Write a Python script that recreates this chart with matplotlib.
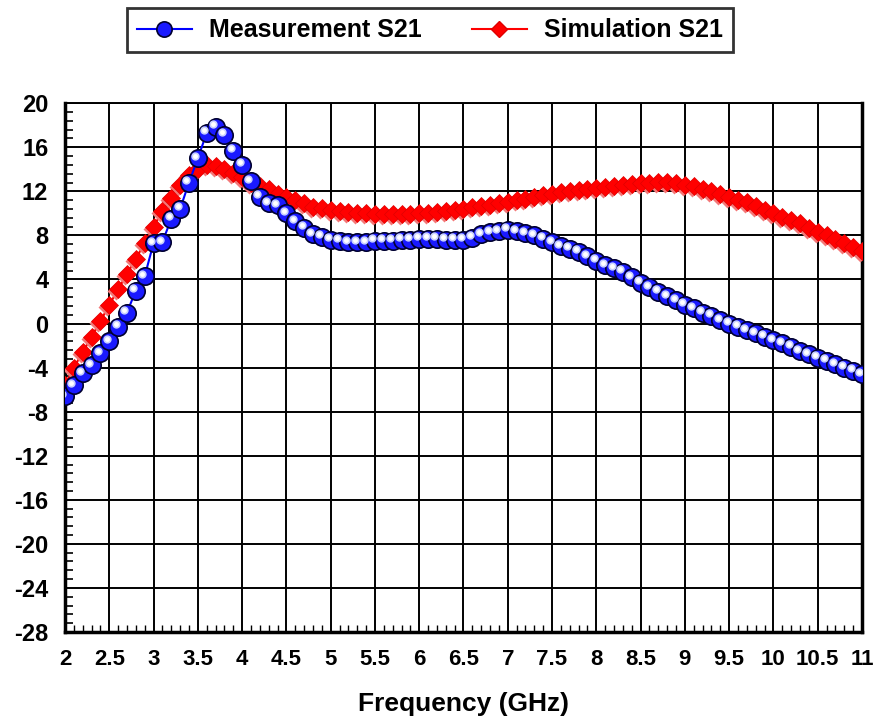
import numpy as np
import matplotlib
matplotlib.use("Agg")
import matplotlib.pyplot as plt
import matplotlib.transforms as mtransforms
from matplotlib.lines import Line2D

plt.rcParams['font.family'] = ['Liberation Sans', 'DejaVu Sans']
plt.rcParams['font.weight'] = 'bold'
plt.rcParams['axes.unicode_minus'] = False

freq = np.round(np.arange(2.0, 11.01, 0.1), 1)

meas_s21 = [-6.6, -5.6, -4.5, -3.8, -2.7, -1.6, -0.3, 1.0, 3.0, 4.3,
            7.3, 7.4, 9.5, 10.4, 12.8, 15.0, 17.3, 17.85, 17.15, 15.7,
            14.4, 12.9, 11.5, 10.9, 10.75, 10.0, 9.3, 8.7, 8.1, 7.9,
            7.6, 7.5, 7.4, 7.4, 7.4, 7.5, 7.5, 7.5, 7.6, 7.6,
            7.7, 7.7, 7.7, 7.6, 7.6, 7.6, 7.8, 8.1, 8.3, 8.4,
            8.5, 8.4, 8.2, 8.0, 7.7, 7.4, 7.0, 6.8, 6.5, 6.1,
            5.7, 5.3, 5.0, 4.7, 4.2, 3.7, 3.3, 2.9, 2.5, 2.1,
            1.7, 1.4, 1.0, 0.7, 0.3, 0.0, -0.3, -0.6, -0.9, -1.2,
            -1.5, -1.8, -2.1, -2.5, -2.8, -3.1, -3.4, -3.7, -4.0, -4.3,
            -4.6]

sim_s21 = [-5.6, -4.0, -2.6, -1.2, 0.2, 1.7, 3.1, 4.5, 5.9, 7.3,
           8.8, 10.2, 11.4, 12.6, 13.5, 14.0, 14.4, 14.3, 14.0, 13.7,
           13.3, 12.8, 12.5, 12.2, 11.8, 11.5, 11.2, 10.9, 10.6, 10.45,
           10.3, 10.2, 10.1, 10.0, 10.0, 9.95, 9.9, 9.9, 9.9, 9.95,
           10.0, 10.05, 10.1, 10.2, 10.3, 10.4, 10.55, 10.7, 10.8, 10.95,
           11.05, 11.2, 11.35, 11.5, 11.65, 11.8, 11.9, 12.0, 12.1, 12.2,
           12.3, 12.4, 12.5, 12.6, 12.65, 12.75, 12.8, 12.85, 12.85, 12.75,
           12.6, 12.45, 12.25, 12.0, 11.75, 11.5, 11.25, 11.0, 10.7, 10.35,
           10.0, 9.7, 9.4, 9.1, 8.7, 8.35, 8.0, 7.65, 7.3, 6.95,
           6.6]

x_ticks = np.arange(2, 11.01, 0.5)
x_labels = ['2', '2.5', '3', '3.5', '4', '4.5', '5', '5.5', '6', '6.5', '7',
            '7.5', '8', '8.5', '9', '9.5', '10', '10.5', '11']
y_ticks = np.arange(-28, 21, 4)

fig = plt.figure(figsize=(8.76, 7.22), dpi=100)
ax = fig.add_axes([0.0742, 0.1247, 0.9098, 0.7323])

# red diamonds with a light "shadow" behind
shadow = mtransforms.offset_copy(ax.transData, fig=fig, x=-2, y=-2, units='dots')
ax.plot(freq, sim_s21, color='red', lw=1.5, zorder=3)
ax.plot(freq, sim_s21, ls='none', marker='D', ms=9, color='#f47878',
        mec='none', transform=shadow, zorder=3)
ax.plot(freq, sim_s21, ls='none', marker='D', ms=9, color='#ff0000',
        mec='#e00000', mew=0.5, zorder=4)

# blue spheres: circle plus offset highlight
hl = mtransforms.offset_copy(ax.transData, fig=fig, x=-2.5, y=2.5, units='dots')
ax.plot(freq, meas_s21, color='blue', lw=1.5, zorder=5)
ax.plot(freq, meas_s21, ls='none', marker='o', ms=12.5, color='#1a1aff',
        mec='#000030', mew=1.2, zorder=6)
ax.plot(freq, meas_s21, ls='none', marker='o', ms=6, color='#c8d0ff',
        mec='none', transform=hl, zorder=7)
ax.plot(freq, meas_s21, ls='none', marker='o', ms=3.5, color='white',
        mec='none', transform=hl, zorder=8)

ax.set_xlim(2, 11)
ax.set_ylim(-28, 20)
ax.set_xticks(x_ticks)
ax.set_xticklabels(x_labels)
ax.set_yticks(y_ticks)
ax.set_xticks(np.arange(2, 11.01, 0.1), minor=True)
ax.set_yticks(np.arange(-28, 20.01, 0.8), minor=True)
ax.grid(True, which='major', color='black', lw=1.4)
ax.tick_params(axis='x', which='major', length=0, labelsize=16, pad=12)
ax.tick_params(axis='y', which='major', length=0, labelsize=17, pad=12)
ax.tick_params(axis='x', which='minor', direction='in', length=5, width=1,
               bottom=True, top=False)
ax.tick_params(axis='y', which='minor', direction='in', length=6, width=1.2,
               left=True, right=False)
for s in ['left', 'bottom', 'right']:
    ax.spines[s].set_linewidth(2.5)
ax.spines['top'].set_linewidth(1.4)
for lab in ax.get_xticklabels() + ax.get_yticklabels():
    lab.set_fontweight('bold')

ax.set_xlabel('Frequency (GHz)', fontsize=19, fontweight='bold', labelpad=16)

handles = [
    Line2D([], [], color='blue', lw=1.5, marker='o', ms=11, mfc='#1a1aff',
           mec='#000030', mew=1.2),
    Line2D([], [], color='red', lw=1.5, marker='D', ms=8, mfc='red', mec='#e00000'),
]
leg = fig.legend(handles, ['Measurement S21', 'Simulation S21'], ncol=2,
                 loc='center', bbox_to_anchor=(0.491, 0.958),
                 frameon=True, fancybox=False, edgecolor='black',
                 handlelength=2.2, handletextpad=0.7, columnspacing=2.0,
                 borderpad=0.4, borderaxespad=0.2,
                 prop={'weight': 'bold', 'size': 18})
leg.get_frame().set_linewidth(2)

fig.savefig('out.png', dpi=100)
